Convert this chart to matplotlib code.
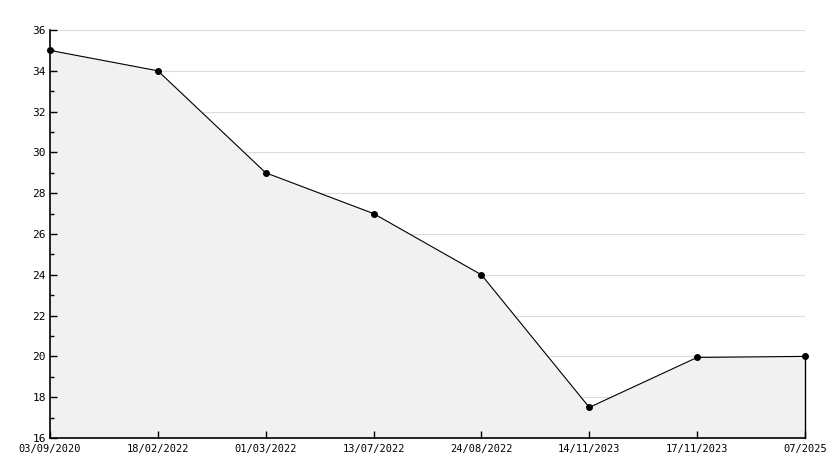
import matplotlib
matplotlib.use("Agg")
import matplotlib.pyplot as plt
import numpy as np

dates = ["03/09/2020", "18/02/2022", "01/03/2022", "13/07/2022",
         "24/08/2022", "14/11/2023", "17/11/2023", "07/2025"]
values = [35, 34, 29, 27, 24, 17.5, 19.95, 20]
y_major = [16, 18, 20, 22, 24, 26, 28, 30, 32, 34, 36]

plt.rcParams['font.family'] = ['DejaVu Sans Mono']

fig = plt.figure(figsize=(8.34, 4.68), dpi=100)
ax = fig.add_axes([50 / 834, 30 / 468, 755 / 834, 408 / 468])

x = np.arange(len(dates))
# grid under the fill
for v in y_major[1:]:
    ax.axhline(v, color="#dddddd", lw=0.8, zorder=0.5)
ax.fill_between(x, values, 16, color="#f1f1f1", zorder=1)
ax.plot([x[-1], x[-1]], [16, values[-1]], color="black", lw=1.0, zorder=2, clip_on=False)
ax.plot(x, values, color="black", lw=0.8, marker="o", markersize=4,
        zorder=3, clip_on=False)

ax.set_xlim(0, len(dates) - 1)
ax.set_ylim(16, 36)
ax.set_xticks(x)
ax.set_xticklabels(dates, fontsize=7.5)
ax.set_yticks(y_major)
ax.set_yticklabels([str(v) for v in y_major], fontsize=8)
ax.set_yticks(np.arange(17, 36, 2), minor=True)

for s in ["top", "right"]:
    ax.spines[s].set_visible(False)
ax.spines["left"].set_linewidth(1.2)
ax.spines["bottom"].set_linewidth(1.2)
ax.tick_params(axis="both", which="major", direction="in", length=5, width=1, pad=3)
ax.tick_params(axis="y", which="minor", direction="in", length=3, width=1)
ax.tick_params(axis="x", pad=4)

fig.savefig("out.png", dpi=100)
